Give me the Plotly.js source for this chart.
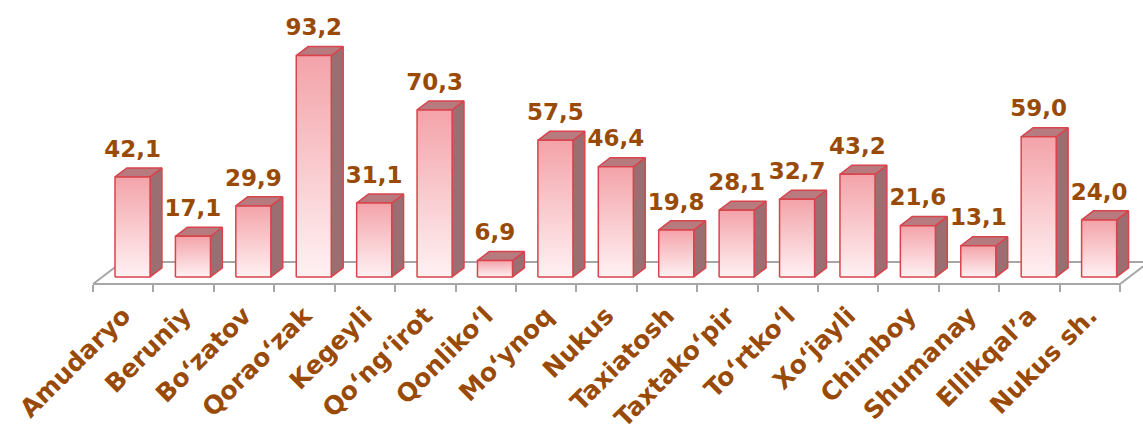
<!DOCTYPE html>
<html><head><meta charset="utf-8">
<script src="https://cdn.plot.ly/plotly-3.0.1.min.js"></script>
<style>html,body{margin:0;padding:0;background:#fff}#chart{width:1143px;height:436px}</style>
</head><body><div id="chart"></div>
<script>
const categories = ['Amudaryo','Beruniy','Bo‘zatov','Qorao‘zak','Kegeyli','Qo‘ng‘irot','Qonliko‘l','Mo‘ynoq','Nukus','Taxiatosh','Taxtako‘pir','To‘rtko‘l','Xo‘jayli','Chimboy','Shumanay','Ellikqal’a','Nukus sh.'];
const values = [42.1,17.1,29.9,93.2,31.1,70.3,6.9,57.5,46.4,19.8,28.1,32.7,43.2,21.6,13.1,59.0,24.0];
const valueLabels = values.map(v => v.toFixed(1).replace('.', ','));

// 3D projection settings (axis units)
const DX = 0.48, DY = 9.3;      // floor depth offset
const F0 = 0.32, F1 = 0.73;     // bar front/back depth fractions
const HALFW = 0.29;             // half bar width
const Y0 = -6.74, Y1 = 119.58;

const brown = '#994A06';
const red = '#D9444C';
const fontFam = 'DejaVu Sans, Verdana, sans-serif';
const n = categories.length;
const centers = categories.map((c, i) => i + 0.5);
const bounds = Array.from({length: n + 1}, (_, i) => i);

const traces = [];
// floor outline
traces.push({
  type: 'scatter', mode: 'lines', hoverinfo: 'skip',
  x: [0, n, n + DX, DX, 0], y: [0, 0, DY, DY, 0],
  line: {color: '#A6A6A6', width: 2}
});

const bdx = (F1 - F0) * DX, bdy = (F1 - F0) * DY;
const sideX = [], sideY = [], topX = [], topY = [];
values.forEach((v, i) => {
  const x0 = centers[i] - HALFW + F0 * DX, x1 = centers[i] + HALFW + F0 * DX;
  const yb = F0 * DY, yt = yb + v;
  sideX.push(x1, x1 + bdx, x1 + bdx, x1, x1, null);
  sideY.push(yb, yb + bdy, yt + bdy, yt, yb, null);
  topX.push(x0, x1, x1 + bdx, x0 + bdx, x0, null);
  topY.push(yt, yt, yt + bdy, yt + bdy, yt, null);
});
traces.push({type: 'scatter', mode: 'lines', fill: 'toself', hoverinfo: 'skip',
  x: sideX, y: sideY, fillcolor: '#9B6F72', line: {color: red, width: 1.5}});
traces.push({type: 'scatter', mode: 'lines', fill: 'toself', hoverinfo: 'skip',
  x: topX, y: topY, fillcolor: '#B77B7F', line: {color: red, width: 1.5}});

values.forEach((v, i) => {
  const x0 = centers[i] - HALFW + F0 * DX, x1 = centers[i] + HALFW + F0 * DX;
  const yb = F0 * DY, yt = yb + v;
  traces.push({type: 'scatter', mode: 'lines', fill: 'toself', hoverinfo: 'skip',
    x: [x0, x1, x1, x0, x0], y: [yb, yb, yt, yt, yb],
    fillgradient: {type: 'vertical', start: yb, stop: yt,
      colorscale: [[0, '#FFF1F3'], [1, '#F3A3A9']]},
    line: {color: red, width: 1.5}});
});

traces.push({type: 'scatter', mode: 'text', hoverinfo: 'skip', cliponaxis: false,
  x: centers.map(c => c + F0 * DX), y: values.map(v => F0 * DY + v + 11),
  text: valueLabels, textposition: 'middle center',
  textfont: {family: fontFam, size: 23, color: brown, weight: 'bold'}});

const layout = {
  width: 1143, height: 436,
  margin: {l: 0, r: 0, t: 0, b: 136, pad: 0},
  paper_bgcolor: '#fff', plot_bgcolor: 'rgba(0,0,0,0)',
  showlegend: false,
  xaxis: {
    range: [-1.54, 17.38], tickmode: 'array', tickvals: centers, ticktext: categories,
    tickangle: -45, ticks: '', showline: false, showgrid: false, zeroline: false,
    anchor: 'free', position: (0 - Y0) / (Y1 - Y0), automargin: false, fixedrange: true,
    ticklabelstandoff: 11,
    tickfont: {family: fontFam, size: 25, color: brown, weight: 'bold'},
    minor: {tickmode: 'array', tickvals: bounds, ticks: 'outside', ticklen: 7, tickcolor: '#A6A6A6', tickwidth: 2, showgrid: false}
  },
  yaxis: {range: [Y0, Y1], visible: false, fixedrange: true},
};
Plotly.newPlot('chart', traces, layout, {displayModeBar: false, staticPlot: true});
</script></body></html>
